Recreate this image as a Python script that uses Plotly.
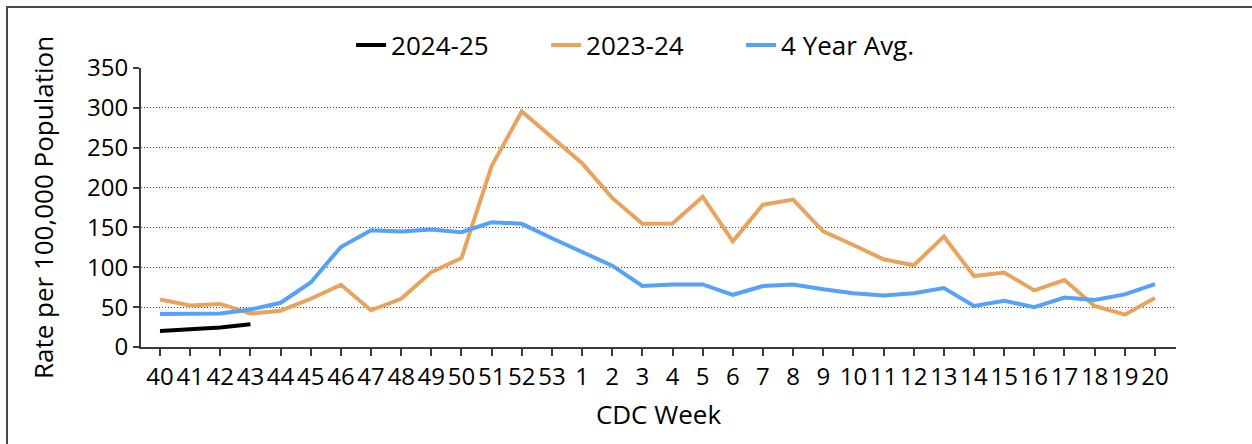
import plotly.graph_objects as go

weeks = ["40", "41", "42", "43", "44", "45", "46", "47", "48", "49", "50", "51", "52", "53",
         "1", "2", "3", "4", "5", "6", "7", "8", "9", "10", "11", "12", "13", "14", "15",
         "16", "17", "18", "19", "20"]

season_2024_25 = [20, 22.5, 24.5, 28.5]

season_2023_24 = [59.5, 52, 54, 42, 45.5, 60.5, 78, 46, 60.5, 94, 111.5, 227, 295.5, 263,
                  230.5, 187, 154.5, 155, 188.5, 132.5, 178.5, 185, 145, 128, 110, 102.5,
                  138.5, 89, 93.5, 71, 84, 51.5, 40.5, 61.5]

four_year_avg = [41.5, 41.5, 42, 47, 55.5, 81, 125.5, 146.5, 145, 147.5, 144, 156.5, 154.5,
                 136.5, 119.5, 102, 76.5, 78.5, 78.5, 65.5, 76.5, 78.5, 72.5, 67.5, 64.5,
                 67.5, 74, 51.5, 58, 50, 62, 59, 66, 79]

FONT = "Open Sans"
idx = list(range(len(weeks)))

fig = go.Figure()
fig.add_trace(go.Scatter(x=idx[:len(season_2024_25)], y=season_2024_25, mode="lines",
                         name="2024-25", line=dict(color="#000000", width=4)))
fig.add_trace(go.Scatter(x=idx, y=season_2023_24, mode="lines", name="2023-24",
                         line=dict(color="#E8A45E", width=4)))
fig.add_trace(go.Scatter(x=idx, y=four_year_avg, mode="lines", name="4 Year Avg.",
                         line=dict(color="#55A2F8", width=4)))

# plot area: x 141..1176, y 68..347
fig.add_shape(type="rect", xref="paper", yref="paper",
              x0=(7 - 141) / 1035, y0=-0.6, x1=1.2, y1=1 + (68 - 7) / 279,
              line=dict(color="#4a4a4a", width=2), fillcolor="rgba(0,0,0,0)", layer="below")

fig.update_layout(
    width=1252, height=444,
    margin=dict(l=141, r=76, t=68, b=97),
    paper_bgcolor="white", plot_bgcolor="white",
    font=dict(family=FONT, size=24, color="#000000"),
    showlegend=True,
    legend=dict(orientation="h", x=0.203, xanchor="left", y=1.082, yanchor="middle",
                font=dict(family=FONT, size=26, color="#000000"),
                bgcolor="rgba(0,0,0,0)", entrywidth=150, entrywidthmode="pixels",
                traceorder="normal"),
    xaxis=dict(
        range=[-0.63, 33.7], tickmode="array", tickvals=idx, ticktext=weeks,
        showgrid=False, zeroline=False, showline=True, linecolor="#3a3a3a", linewidth=2,
        ticks="outside", ticklen=7, tickwidth=1.5, tickcolor="#3a3a3a",
        tickangle=0, tickfont=dict(family=FONT, size=24),
        title=dict(text="CDC Week", font=dict(family=FONT, size=26), standoff=15),
    ),
    yaxis=dict(
        range=[0, 350], tick0=0, dtick=50, showgrid=True, gridcolor="#444444",
        griddash="1px,2px", gridwidth=1, zeroline=False, showline=True,
        linecolor="#3a3a3a", linewidth=2, ticks="outside", ticklen=6, tickwidth=1.5,
        tickcolor="#3a3a3a", tickfont=dict(family=FONT, size=24),
        title=dict(text="Rate per 100,000 Population", font=dict(family=FONT, size=26),
                   standoff=26),
    ),
)

fig.write_html("out.html", config={"displayModeBar": False},
               post_script="document.body.style.margin='0';")
